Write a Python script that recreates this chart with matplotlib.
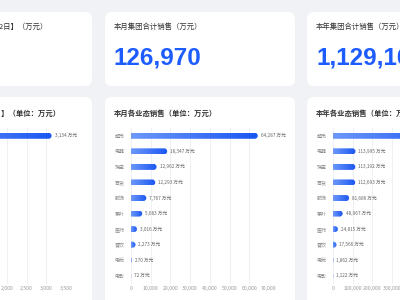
import numpy as np
import matplotlib
matplotlib.use("Agg")
import matplotlib.pyplot as plt
from matplotlib.patches import FancyBboxPatch
from matplotlib.colors import LinearSegmentedColormap

plt.rcParams['font.family'] = ['Noto Sans CJK SC', 'DejaVu Sans']

# ---------------- DATA ----------------
categories = ["超市", "电器", "珠宝", "百货", "服饰", "茶叶", "医药", "餐饮", "电玩", "电影"]
day_sales = [3134, 520, 410, 380, 260, 190, 110, 95, 12, 3]
month_sales = [64287, 18347, 12962, 12293, 7767, 5683, 3016, 2273, 270, 72]
year_sales = [613265, 113995, 113192, 112693, 81686, 48967, 24815, 17566, 1862, 1122]

day_ticks = [0, 500, 1000, 1500, 2000, 2500, 3000, 3500]
month_ticks = [0, 10000, 20000, 30000, 40000, 50000, 60000, 70000]
year_ticks = [0, 100000, 200000, 300000, 400000, 500000, 600000, 700000]

top_titles = ["昨日集团合计销售【8月22日】（万元）", "本月集团合计销售（万元）", "本年集团合计销售（万元）"]
chart_titles = ["昨日各业态销售【8月22日】（单位：万元）", "本月各业态销售（单位：万元）", "本年各业态销售（单位：万元）"]

# ---------------- LAYOUT (pixels) ----------------
W, H = 400, 300
BG = '#f0f2f5'
BLUE = '#1d5cff'
card_x = [-98, 105, 307]
card_w = 190
grad = LinearSegmentedColormap.from_list("bar", ["#6c98fa", "#1a56f2"])

fig = plt.figure(figsize=(W / 100, H / 100), dpi=100)
fig.patch.set_facecolor(BG)


def px_rect(x, y, w, h):
    return [x / W, 1 - (y + h) / H, w / W, h / H]


def card(x, y, w, h, r=7):
    p = FancyBboxPatch((x / W, 1 - (y + h) / H), w / W, h / H,
                       boxstyle=f"round,pad=0,rounding_size={r / W}",
                       mutation_aspect=W / H, transform=fig.transFigure,
                       fc='white', ec='none', zorder=0)
    fig.add_artist(p)


def bar_chart(x0, values, ticks):
    aw, top, ah = 138, 128, 155.6
    ax = fig.add_axes(px_rect(x0, top, aw, ah))
    ax.set_facecolor('none')
    n = len(values)
    xpp = ticks[-1] / aw          # data units per pixel (x)
    ypp = n / ah                  # data units per pixel (y)
    bh = 6.0 * ypp
    rx = 3.0 * xpp
    for i, v in enumerate(values):
        patch = FancyBboxPatch((-rx, i - bh / 2), v + rx, bh,
                               boxstyle=f"round,pad=0,rounding_size={min(rx, (v + rx) / 2)}",
                               mutation_aspect=ypp / xpp,
                               fc='none', ec='none', transform=ax.transData)
        ax.add_patch(patch)
        im = ax.imshow(np.linspace(0, 1, 256).reshape(1, -1), cmap=grad,
                       extent=[0, v, i + bh / 2, i - bh / 2], aspect='auto',
                       interpolation='bilinear', zorder=2)
        im.set_clip_path(patch)
        ax.annotate(f"{v:,} 万元", (v, i), xytext=(3, 0), textcoords='offset pixels',
                    va='center', ha='left', fontsize=3.4, color='#666666',
                    annotation_clip=False)
    ax.set_xlim(0, ticks[-1])
    ax.set_ylim(n - 0.5, -0.5)
    ax.set_xticks(ticks)
    ax.set_xticklabels([f"{t:,}" for t in ticks])
    ax.set_yticks(range(n))
    ax.set_yticklabels(categories)
    ax.tick_params(axis='x', length=0, labelsize=3.7, colors='#999999', pad=2)
    ax.tick_params(axis='y', length=0, labelsize=3.6, colors='#888888', pad=4.5)
    ax.grid(axis='x', color='#eceef3', lw=0.6, zorder=0)
    ax.set_axisbelow(True)
    for s in ax.spines.values():
        s.set_visible(False)
    return ax


totals = [sum(day_sales), sum(month_sales), sum(year_sales)]
chart_data = [(day_sales, day_ticks), (month_sales, month_ticks), (year_sales, year_ticks)]

for k, x in enumerate(card_x):
    # first card is partly outside the view: anchor its titles at their right end
    if k == 0:
        tx_top, tx_bot, ha = 48, 61, 'right'
    else:
        tx_top, tx_bot, ha = x + 9, x + 9, 'left'
    # top summary cards
    card(x, 12, card_w, 74)
    fig.text(tx_top / W, 1 - 27 / H, top_titles[k], fontsize=5.3, color='#333333',
             va='center', ha=ha)
    fig.text((x + 9) / W, 1 - 65 / H, f"{totals[k]:,}", fontsize=17.5, fontweight='bold',
             color=BLUE, va='baseline', ha='left', family=['Liberation Sans', 'DejaVu Sans'])
    # bottom chart cards
    card(x, 97, card_w, 230)
    fig.text(tx_bot / W, 1 - 112.7 / H, chart_titles[k], fontsize=5.3, fontweight='bold',
             color='#333333', va='center', ha=ha)
    vals, ticks = chart_data[k]
    bar_chart(x + 26, vals, ticks)

fig.savefig("out.png", dpi=100, facecolor=BG)
